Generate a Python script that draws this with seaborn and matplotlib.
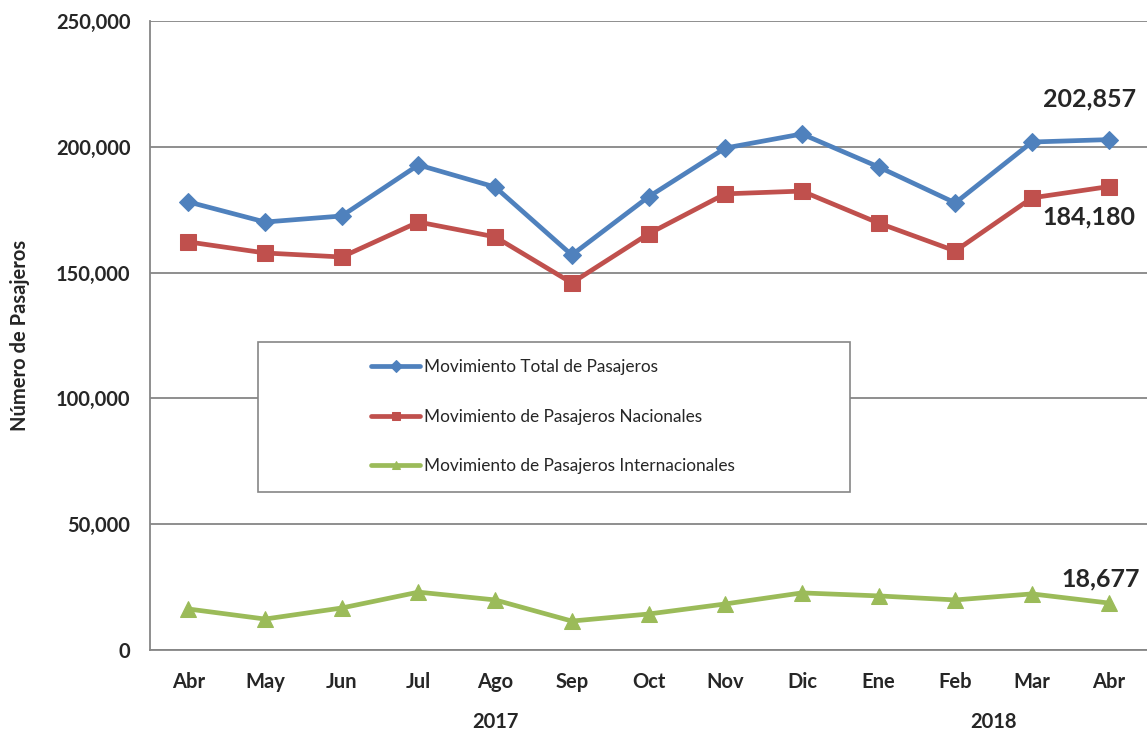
import numpy as np
import pandas as pd
import matplotlib.pyplot as plt
import seaborn as sns
from matplotlib.patches import Rectangle
from matplotlib.ticker import FuncFormatter

# Setup
sns.set_style("white")
plt.rcParams["font.family"] = ["Lato", "DejaVu Sans"]

# --------- DATA ---------
meses = ["Abr", "May", "Jun", "Jul", "Ago", "Sep", "Oct", "Nov", "Dic", "Ene", "Feb", "Mar", "Abr"]
total = [178100, 170100, 172500, 192800, 184000, 157000, 180100, 199500, 205100, 192000, 177700, 201900, 202857]
nacional = [162200, 157800, 156200, 170100, 164200, 145900, 165400, 181300, 182400, 169700, 158600, 179700, 184180]
internacional = [16300, 12300, 16700, 23000, 19900, 11500, 14300, 18300, 22700, 21500, 19900, 22300, 18677]
anios = ["2017", "2018"]
anio_pos = [4, 10.5]

series = [
    ("Movimiento Total de Pasajeros", total, "#4F81BD", "D", 9),
    ("Movimiento de Pasajeros Nacionales", nacional, "#C0504D", "s", 12),
    ("Movimiento de Pasajeros Internacionales", internacional, "#9BBB59", "^", 11),
]

idx = np.arange(len(meses))

fig = plt.figure(figsize=(11.47, 7.33), dpi=100)
ax = fig.add_axes([150 / 1147, 1 - 650 / 733, 997 / 1147, 629 / 733])

for nombre, vals, color, marca, tam in series:
    df = pd.DataFrame({"idx": idx, "valor": vals})
    sns.lineplot(data=df, x="idx", y="valor", ax=ax, color=color, marker=marca,
                 markersize=tam, markeredgecolor=color, linewidth=3.4, label=nombre)

# --------- AXES ---------
ax.set_xlim(-0.5, len(meses) - 0.5)
ax.set_ylim(0, 250000)
ax.set_yticks(np.arange(0, 250001, 50000))
ax.yaxis.set_major_formatter(FuncFormatter(lambda v, p: f"{int(v):,}"))
ax.set_xticks(idx)
ax.set_xticklabels(meses)
ax.tick_params(axis="both", length=0, labelsize=14.5)
ax.tick_params(axis="x", pad=16)
ax.tick_params(axis="y", pad=14)
for lab in ax.get_xticklabels() + ax.get_yticklabels():
    lab.set_fontweight("bold")
ax.grid(axis="y", color="#868686", linewidth=1.3)
ax.set_axisbelow(True)
for lado in ["top", "right"]:
    ax.spines[lado].set_visible(False)
for lado in ["left", "bottom"]:
    ax.spines[lado].set_color("#868686")
    ax.spines[lado].set_linewidth(1.3)

ax.set_xlabel("")
ax.set_ylabel("Número de Pasajeros", fontsize=14.5, fontweight="bold")
ax.yaxis.set_label_coords(-0.12, 0.5)

for anio, pos in zip(anios, anio_pos):
    ax.text(pos, -0.114, anio, transform=ax.get_xaxis_transform(),
            ha="center", va="center", fontsize=14.5, fontweight="bold")

# --------- ANNOTATIONS ---------
ultimo = len(meses) - 1
ax.annotate(f"{total[-1]:,}", (ultimo, total[-1]), xytext=(-14, 29), textcoords="offset points",
            ha="center", va="center", fontsize=18, fontweight="bold")
ax.annotate(f"{nacional[-1]:,}", (ultimo, nacional[-1]), xytext=(-14, -22), textcoords="offset points",
            ha="center", va="center", fontsize=18, fontweight="bold")
ax.annotate(f"{internacional[-1]:,}", (ultimo, internacional[-1]), xytext=(-6, 17), textcoords="offset points",
            ha="center", va="center", fontsize=18, fontweight="bold")

# --------- LEGEND ---------
ax.add_patch(Rectangle((0.108, 0.251), 0.594, 0.239, transform=ax.transAxes,
                       facecolor="white", edgecolor="#868686", linewidth=1.2, zorder=3))
leg = ax.legend(loc="upper left", bbox_to_anchor=(0.2217, 0.4626), frameon=False,
                fontsize=12.4, labelspacing=1.95, handlelength=2.85, handletextpad=0.2,
                borderaxespad=0, borderpad=0)
for h in leg.legend_handles:
    h.set_markersize(6)
leg.set_zorder(4)

fig.savefig("out.png", dpi=100)
